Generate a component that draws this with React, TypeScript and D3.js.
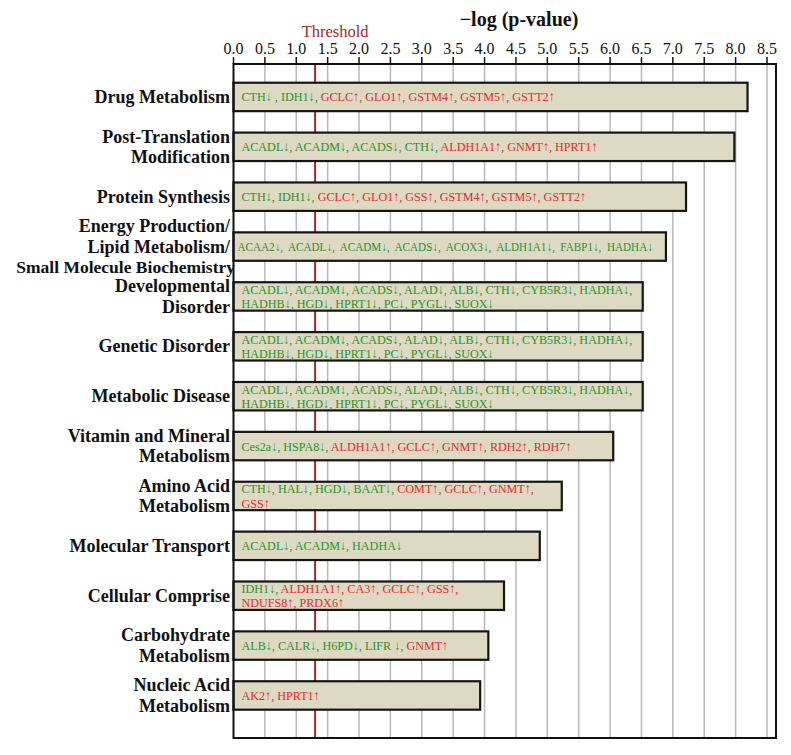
import React from "react";
import * as d3 from "d3";

const categories: string[][] = [
  ["Drug Metabolism"],
  ["Post-Translation", "Modification"],
  ["Protein Synthesis"],
  ["Energy Production/", "Lipid Metabolism/", "Small Molecule Biochemistry"],
  ["Developmental", "Disorder"],
  ["Genetic Disorder"],
  ["Metabolic Disease"],
  ["Vitamin and Mineral", "Metabolism"],
  ["Amino Acid", "Metabolism"],
  ["Molecular Transport"],
  ["Cellular Comprise"],
  ["Carbohydrate", "Metabolism"],
  ["Nucleic Acid", "Metabolism"],
];

const values: number[] = [8.19, 7.98, 7.21, 6.89, 6.52, 6.52, 6.52, 6.05, 5.23, 4.88, 4.31, 4.06, 3.93];

const genes: string[][] = [
  ["CTH↓ , IDH1↓, GCLC↑, GLO1↑, GSTM4↑, GSTM5↑, GSTT2↑"],
  ["ACADL↓, ACADM↓, ACADS↓, CTH↓, ALDH1A1↑, GNMT↑, HPRT1↑"],
  ["CTH↓, IDH1↓, GCLC↑, GLO1↑, GSS↑, GSTM4↑, GSTM5↑, GSTT2↑"],
  ["ACAA2↓,  ACADL↓,  ACADM↓,  ACADS↓,  ACOX3↓,  ALDH1A1↓,  FABP1↓,  HADHA↓"],
  ["ACADL↓, ACADM↓, ACADS↓, ALAD↓, ALB↓, CTH↓, CYB5R3↓, HADHA↓,", "HADHB↓, HGD↓, HPRT1↓, PC↓, PYGL↓, SUOX↓"],
  ["ACADL↓, ACADM↓, ACADS↓, ALAD↓, ALB↓, CTH↓, CYB5R3↓, HADHA↓,", "HADHB↓, HGD↓, HPRT1↓, PC↓, PYGL↓, SUOX↓"],
  ["ACADL↓, ACADM↓, ACADS↓, ALAD↓, ALB↓, CTH↓, CYB5R3↓, HADHA↓,", "HADHB↓, HGD↓, HPRT1↓, PC↓, PYGL↓, SUOX↓"],
  ["Ces2a↓, HSPA8↓, ALDH1A1↑, GCLC↑, GNMT↑, RDH2↑, RDH7↑"],
  ["CTH↓, HAL↓, HGD↓, BAAT↓, COMT↑, GCLC↑, GNMT↑,", "GSS↑"],
  ["ACADL↓, ACADM↓, HADHA↓"],
  ["IDH1↓, ALDH1A1↑, CA3↑, GCLC↑, GSS↑,", "NDUFS8↑, PRDX6↑"],
  ["ALB↓, CALR↓, H6PD↓, LIFR ↓, GNMT↑"],
  ["AK2↑, HPRT1↑"],
];

const tickValues: number[] = d3.range(0, 8.51, 0.5);
const threshold = 1.3;
const axisTitle = "\u2212log (p-value)";
const thresholdLabel = "Threshold";

const W = 791;
const H = 755;
const SERIF = "'Liberation Serif', 'Times New Roman', serif";
const GREEN = "#2b932b";
const RED = "#e52a2a";

export default function App() {
  const x = d3.scaleLinear().domain([0, 8.5]).range([233.5, 767]);
  const y = d3
    .scaleBand<number>()
    .domain(d3.range(categories.length))
    .range([72, 720.4])
    .paddingInner(0.43)
    .paddingOuter(0.215);
  const frameTop = 64;
  const frameBottom = 738;
  const frameLeft = x(0);
  const frameRight = x(8.5) + 9;
  const fmt = d3.format(".1f");

  const tokenize = (s: string) => s.match(/[^↑↓]*[↑↓] *,?/g) || [s];

  return (
    <svg
      width={W}
      height={H}
      style={{ position: "absolute", left: 0, top: 0, background: "#fff" }}
      fontFamily={SERIF}
    >
      <rect x={0} y={0} width={W} height={H} fill="#fff" />
      {/* grid lines */}
      {tickValues.map((t) =>
        t === 0 ? null : (
          <line key={"g" + t} x1={x(t)} x2={x(t)} y1={frameTop} y2={frameBottom} stroke="#b8b8b8" strokeWidth={1.5} />
        )
      )}
      {/* threshold */}
      <line x1={x(threshold)} x2={x(threshold)} y1={frameTop} y2={frameBottom} stroke="#a3282c" strokeWidth={2} />
      {/* bars */}
      {values.map((v, i) => {
        const y0 = y(i)!;
        const bw = y.bandwidth();
        const lines = genes[i];
        const compact = lines[0].includes("  ");
        const fs = compact ? 12 : 13.5;
        const sx = compact ? 0.93 : 0.9;
        const lh = 14.3;
        const cy = y0 + bw / 2;
        return (
          <g key={"b" + i}>
            <rect x={x(0)} y={y0} width={x(v) - x(0)} height={bw} fill="#DDD9C3" stroke="#151515" strokeWidth={2.2} />
            {lines.map((ln, j) => (
              <text
                key={j}
                transform={`translate(${x(0) + (compact ? 4 : 8)},${cy + 4.5 + (j - (lines.length - 1) / 2) * lh}) scale(${sx},1)`}
                fontSize={fs}
                style={{ whiteSpace: "pre" }}
              >
                {tokenize(ln).map((tk, k) => (
                  <tspan key={k} fill={tk.includes("↑") ? RED : GREEN}>
                    {tk}
                  </tspan>
                ))}
              </text>
            ))}
          </g>
        );
      })}
      {/* frame */}
      <rect
        x={frameLeft}
        y={frameTop}
        width={frameRight - frameLeft}
        height={frameBottom - frameTop}
        fill="none"
        stroke="#111"
        strokeWidth={2}
      />
      {/* ticks */}
      {tickValues.map((t) => (
        <g key={"t" + t}>
          <line x1={x(t)} x2={x(t)} y1={frameTop - 7} y2={frameTop} stroke="#111" strokeWidth={1.5} />
          <text x={x(t)} y={frameTop - 10} textAnchor="middle" fontSize={16} fill="#111">
            {fmt(t)}
          </text>
        </g>
      ))}
      {/* titles */}
      <text x={519} y={26} textAnchor="middle" fontSize={20} fontWeight="bold" fill="#111">
        {axisTitle}
      </text>
      <text x={x(threshold) + 20} y={37} textAnchor="middle" fontSize={16.5} fill="#a8282c">
        {thresholdLabel}
      </text>
      {/* category labels */}
      {categories.map((lines, i) => {
        const cy = y(i)! + y.bandwidth() / 2;
        return (
          <text key={"c" + i} textAnchor="end" fontWeight="bold" fill="#111">
            {lines.map((ln, j) => (
              <tspan
                key={j}
                x={ln.startsWith("Small") ? 235 : 230}
                y={cy + 6 + (j - (lines.length - 1) / 2) * 20.5}
                fontSize={ln.startsWith("Small") ? 17.5 : 18}
              >
                {ln}
              </tspan>
            ))}
          </text>
        );
      })}
    </svg>
  );
}
